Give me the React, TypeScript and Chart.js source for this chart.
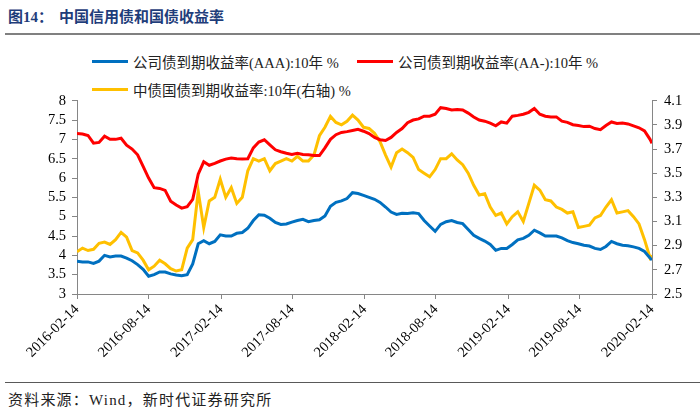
import { useEffect, useRef } from "react";
import { Chart, registerables } from "chart.js";

Chart.register(...registerables);

const tickDates = [
  "2016-02-14", "2016-08-14", "2017-02-14", "2017-08-14", "2018-02-14",
  "2018-08-14", "2019-02-14", "2019-08-14", "2020-02-14",
];
const tickDays = [0, 182, 366, 547, 731, 912, 1096, 1277, 1461];
const sampleStepDays = 14;
const lastDay = 1461;

const aaaYield = [
  3.85, 3.83, 3.83, 3.79, 3.85, 4.00, 3.96, 3.98, 3.98, 3.93,
  3.86, 3.76, 3.64, 3.46, 3.50, 3.57, 3.57, 3.52, 3.49, 3.47,
  3.50, 3.78, 4.30, 4.38, 4.30, 4.36, 4.53, 4.50, 4.50, 4.57,
  4.59, 4.70, 4.90, 5.05, 5.04, 4.96, 4.85, 4.80, 4.81, 4.86,
  4.90, 4.93, 4.87, 4.90, 4.92, 5.02, 5.27, 5.37, 5.41, 5.47,
  5.62, 5.60, 5.55, 5.50, 5.45, 5.37, 5.25, 5.12, 5.06, 5.09,
  5.08, 5.10, 5.08, 4.90, 4.76, 4.62, 4.80, 4.87, 4.90, 4.85,
  4.82, 4.67, 4.52, 4.44, 4.37, 4.28, 4.13, 4.18, 4.18, 4.28,
  4.40, 4.44, 4.52, 4.65, 4.58, 4.50, 4.50, 4.50, 4.45, 4.38,
  4.33, 4.30, 4.26, 4.24, 4.18, 4.15, 4.23, 4.36, 4.30, 4.26,
  4.25, 4.22, 4.18, 4.10, 3.93, 3.88,
];

const aaMinusYield = [
  7.15, 7.14, 7.10, 6.90, 6.92, 7.08, 7.00, 7.00, 7.03, 6.85,
  6.75, 6.60, 6.30, 6.00, 5.75, 5.73, 5.68, 5.40, 5.30, 5.22,
  5.26, 5.45, 6.10, 6.42, 6.33, 6.38, 6.44, 6.49, 6.52, 6.50,
  6.49, 6.50, 6.78, 6.93, 6.99, 6.86, 6.73, 6.68, 6.64, 6.61,
  6.64, 6.61, 6.60, 6.58, 6.58, 6.78, 7.00, 7.12, 7.18, 7.20,
  7.23, 7.26, 7.21, 7.15, 7.05, 6.99, 6.97, 7.05, 7.18, 7.28,
  7.43, 7.50, 7.53, 7.60, 7.60, 7.65, 7.82, 7.80, 7.76, 7.77,
  7.76, 7.68, 7.58, 7.50, 7.47, 7.42, 7.35, 7.45, 7.42, 7.60,
  7.62, 7.65, 7.70, 7.80, 7.65, 7.60, 7.58, 7.58, 7.47, 7.44,
  7.38, 7.36, 7.33, 7.34, 7.28, 7.25, 7.36, 7.45, 7.41, 7.42,
  7.40, 7.35, 7.30, 7.22, 7.00, 6.90,
];

const govYield = [
  2.85, 2.88, 2.86, 2.87, 2.92, 2.93, 2.91, 2.95, 3.01, 2.97,
  2.86, 2.84, 2.78, 2.70, 2.73, 2.78, 2.75, 2.71, 2.69, 2.70,
  2.88, 2.95, 3.35, 3.05, 3.27, 3.30, 3.45, 3.30, 3.38, 3.25,
  3.30, 3.52, 3.62, 3.60, 3.62, 3.52, 3.58, 3.60, 3.62, 3.60,
  3.64, 3.60, 3.60, 3.65, 3.81, 3.88, 3.97, 3.92, 3.90, 3.93,
  3.98, 3.94, 3.88, 3.87, 3.83, 3.76, 3.65, 3.55, 3.67, 3.70,
  3.67, 3.63, 3.53, 3.50, 3.47, 3.53, 3.62, 3.62, 3.66, 3.61,
  3.57, 3.50, 3.40, 3.32, 3.33, 3.22, 3.15, 3.17, 3.08, 3.14,
  3.18, 3.10, 3.25, 3.40, 3.36, 3.28, 3.27, 3.22, 3.20, 3.17,
  3.18, 3.05, 3.06, 3.07, 3.13, 3.15, 3.22, 3.28, 3.17, 3.18,
  3.19, 3.14, 3.08, 2.95, 2.80, 2.82,
];

const seriesNames = [
  "公司债到期收益率(AAA):10年 %",
  "公司债到期收益率(AA-):10年 %",
  "中债国债到期收益率:10年(右轴) %",
];
const seriesColors = ["#0070C0", "#FF0000", "#FFC000"];

const FONT = "'Liberation Serif', 'Times New Roman', 'Noto Sans CJK SC', serif";
const AXIS_COLOR = "#868686";

const toPoints = (vals: number[]) =>
  vals.map((y, i) => ({ x: Math.min(i * sampleStepDays, lastDay), y }));

const CANVAS_TOP = 85;
const CANVAS_H = 295;

export default function App() {
  const ref = useRef<HTMLCanvasElement | null>(null);

  useEffect(() => {
    if (!ref.current) return;
    const axisGrid = {
      drawOnChartArea: false,
      drawTicks: true,
      tickLength: 5,
      color: AXIS_COLOR,
      lineWidth: 1,
    };
    const axisBorder = { display: true, color: AXIS_COLOR, width: 1 };
    const tickFont = { family: FONT, size: 14.5 };
    const chart = new Chart(ref.current, {
      type: "line",
      data: {
        datasets: [aaaYield, aaMinusYield, govYield].map((vals, i) => ({
          label: seriesNames[i],
          data: toPoints(vals),
          borderColor: seriesColors[i],
          backgroundColor: seriesColors[i],
          borderWidth: 3,
          pointRadius: 0,
          tension: 0,
          fill: false,
          yAxisID: i === 2 ? "yRight" : "yLeft",
        })),
      },
      options: {
        animation: false,
        responsive: false,
        events: [],
        layout: { padding: { top: 12, left: 0, right: 0, bottom: 0 } },
        plugins: {
          legend: { display: false },
          title: { display: false },
          tooltip: { enabled: false },
        },
        scales: {
          x: {
            type: "linear",
            min: 0,
            max: lastDay,
            grid: axisGrid,
            border: axisBorder,
            afterBuildTicks: (scale: any) => {
              scale.ticks = tickDays.map((v) => ({ value: v }));
            },
            afterFit: (scale: any) => {
              scale.height = CANVAS_TOP + CANVAS_H - 294;
            },
            ticks: {
              autoSkip: false,
              maxRotation: 45,
              minRotation: 45,
              padding: 2,
              color: "#000",
              font: tickFont,
              callback: (_v: any, index: number) => tickDates[index],
            },
          },
          yLeft: {
            type: "linear",
            position: "left",
            min: 3,
            max: 8,
            grid: axisGrid,
            border: axisBorder,
            afterFit: (scale: any) => {
              scale.width = 77;
            },
            ticks: {
              autoSkip: false,
              stepSize: 0.5,
              padding: 6,
              color: "#000",
              font: tickFont,
              callback: (v: any) =>
                Number.isInteger(v) ? String(v) : Number(v).toFixed(1),
            },
          },
          yRight: {
            type: "linear",
            position: "right",
            min: 2.5,
            max: 4.1,
            grid: axisGrid,
            border: axisBorder,
            afterFit: (scale: any) => {
              scale.width = 48;
            },
            ticks: {
              autoSkip: false,
              stepSize: 0.2,
              padding: 7,
              color: "#000",
              font: tickFont,
              callback: (v: any) => Number(v).toFixed(1),
            },
          },
        },
      },
    } as any);
    return () => chart.destroy();
  }, []);

  const legendItem = (i: number, left: number, top: number) => (
    <div
      key={i}
      style={{
        position: "absolute",
        left,
        top,
        display: "flex",
        alignItems: "center",
        whiteSpace: "nowrap",
        height: 20,
      }}
    >
      <span
        style={{
          display: "inline-block",
          width: 36,
          height: 3,
          background: seriesColors[i],
          marginRight: 5,
        }}
      />
      <span style={{ fontFamily: FONT, fontSize: 14.5, color: "#222" }}>
        {seriesNames[i]}
      </span>
    </div>
  );

  return (
    <div
      style={{
        position: "fixed",
        left: 0,
        top: 0,
        width: 700,
        height: 411,
        background: "#fff",
        overflow: "hidden",
      }}
    >
      <div
        style={{
          position: "absolute",
          left: 8,
          top: 5,
          fontFamily: FONT,
          fontWeight: "bold",
          fontSize: 15,
          color: "#1F3D7A",
          whiteSpace: "nowrap",
        }}
      >
        <span>图14：</span>
        <span style={{ marginLeft: 6 }}>中国信用债和国债收益率</span>
      </div>
      <div
        style={{
          position: "absolute",
          left: 5,
          top: 33,
          width: 695,
          height: 2,
          background: "#808080",
        }}
      />
      {legendItem(0, 92, 51)}
      {legendItem(1, 357, 51)}
      {legendItem(2, 92, 79)}
      <canvas
        ref={ref}
        width={700}
        height={CANVAS_H}
        style={{
          position: "absolute",
          left: 0,
          top: CANVAS_TOP,
          width: 700,
          height: CANVAS_H,
        }}
      />
      <div
        style={{
          position: "absolute",
          left: 5,
          top: 382,
          width: 695,
          height: 1,
          background: "#595959",
        }}
      />
      <div
        style={{
          position: "absolute",
          left: 8,
          top: 388,
          fontFamily: FONT,
          fontSize: 15,
          letterSpacing: 1.2,
          color: "#222",
          whiteSpace: "nowrap",
        }}
      >
        资料来源：Wind，新时代证券研究所
      </div>
    </div>
  );
}
